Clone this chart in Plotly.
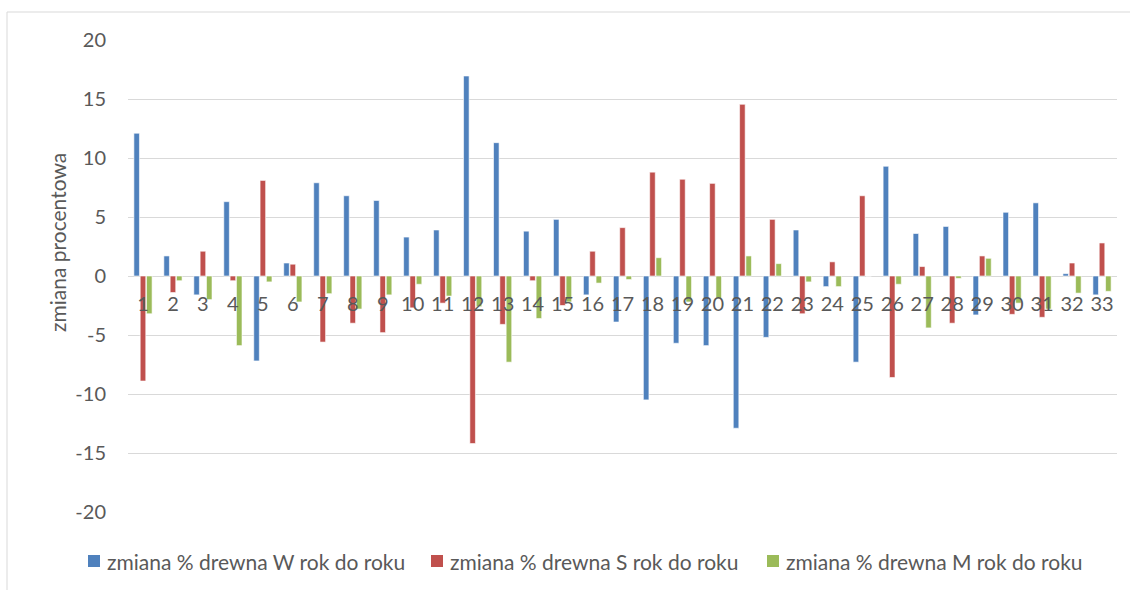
import plotly.graph_objects as go

# Year-over-year percentage change of wood volume, three series
categories = [str(i) for i in range(1, 34)]

zmiana_W = [12.1, 1.7, -1.6, 6.3, -7.2, 1.1, 7.9, 6.8, 6.4, 3.3, 3.9, 16.95, 11.3,
            3.8, 4.8, -1.6, -3.9, -10.5, -5.7, -5.9, -12.9, -5.2, 3.9, -0.9, -7.3,
            9.3, 3.6, 4.2, -3.3, 5.4, 6.2, 0.2, -1.6]
zmiana_S = [-8.9, -1.4, 2.1, -0.4, 8.1, 1.0, -5.6, -4.0, -4.8, -2.7, -2.3, -14.2, -4.1,
            -0.4, -2.5, 2.1, 4.1, 8.8, 8.2, 7.85, 14.55, 4.8, -3.2, 1.2, 6.8,
            -8.6, 0.8, -4.0, 1.7, -3.25, -3.5, 1.1, 2.8]
zmiana_M = [-3.2, -0.4, -2.0, -5.9, -0.5, -2.2, -1.5, -2.8, -1.6, -0.7, -1.7, -2.6, -7.3,
            -3.6, -2.2, -0.6, -0.3, 1.55, -2.2, -1.9, 1.7, 1.05, -0.5, -0.9, 0.0,
            -0.7, -4.4, -0.2, 1.5, -2.3, -2.8, -1.45, -1.3]

series_names = [
    "zmiana % drewna W rok do roku",
    "zmiana % drewna S rok do roku",
    "zmiana % drewna M rok do roku",
]
colors = ["#4f81bd", "#c0504d", "#9bbb59"]

y_ticks = [20, 15, 10, 5, 0, -5, -10, -15, -20]
y_labels = ["20", "15", "10", "5", "0", "-5", "-10", "-15", "-20"]

FONT = "Lato"
TEXT = "#595959"
GRID = "#d9d9d9"

W, H = 1130, 590
ML, MR, MT, MB = 128, 13, 40, 78
PW, PH = W - ML - MR, H - MT - MB


def px_x(px):
    """pixel column -> paper x"""
    return (px - ML) / PW


def px_y(py):
    """pixel row -> paper y"""
    return (H - MB - py) / PH


fig = go.Figure()
for name, vals, col in zip(series_names, [zmiana_W, zmiana_S, zmiana_M], colors):
    fig.add_trace(go.Bar(
        x=categories, y=vals, name=name,
        marker=dict(color=col, line=dict(color="white", width=0.6)),
    ))

# legend row below the plot: colour squares with captions
legend_sq_left = [88, 431, 767]
legend_row_y = 561
shapes = []
annotations = []
for name, col, sx in zip(series_names, colors, legend_sq_left):
    shapes.append(dict(
        type="rect", xref="paper", yref="paper", layer="above",
        x0=px_x(sx), x1=px_x(sx + 12),
        y0=px_y(legend_row_y + 6), y1=px_y(legend_row_y - 6),
        fillcolor=col, line=dict(width=0),
    ))
    annotations.append(dict(
        text=name, xref="paper", yref="paper",
        x=px_x(sx + 18), y=px_y(legend_row_y),
        xanchor="left", yanchor="middle", showarrow=False, borderpad=0,
        font=dict(family=FONT, size=21, color=TEXT),
    ))

annotations.append(dict(
    text="zmiana procentowa", xref="paper", yref="paper", x=0, y=0.5,
    xanchor="center", yanchor="middle", xshift=-71, yshift=33,
    textangle=-90, showarrow=False,
    font=dict(family=FONT, size=21, color=TEXT),
))

# chart-area frame (left and top edges)
shapes += [
    dict(type="line", xref="paper", yref="paper",
         x0=px_x(7), x1=px_x(W + 10), y0=px_y(12), y1=px_y(12),
         line=dict(color=GRID, width=1)),
    dict(type="line", xref="paper", yref="paper",
         x0=px_x(7), x1=px_x(7), y0=px_y(12), y1=px_y(H + 10),
         line=dict(color=GRID, width=1)),
]

fig.update_layout(
    width=W, height=H,
    margin=dict(l=ML, r=MR, t=MT, b=MB, autoexpand=False),
    paper_bgcolor="white", plot_bgcolor="white",
    barmode="group", bargap=0.367, bargroupgap=0.12,
    font=dict(family=FONT, size=20, color=TEXT),
    showlegend=False,
    xaxis=dict(
        type="category", anchor="free", position=0.5,
        showgrid=False, showline=False, zeroline=False,
        ticks="", ticklabelstandoff=14,
        tickfont=dict(family=FONT, size=20, color=TEXT),
    ),
    yaxis=dict(
        range=[-20, 20], tickvals=y_ticks, ticktext=y_labels,
        showgrid=True, gridcolor=GRID, gridwidth=1,
        zeroline=True, zerolinecolor=GRID, zerolinewidth=1,
        showline=False, ticks="", ticklabelstandoff=21,
        tickfont=dict(family=FONT, size=20, color=TEXT),
    ),
    annotations=annotations,
    shapes=shapes,
)

fig.write_html("out.html")
